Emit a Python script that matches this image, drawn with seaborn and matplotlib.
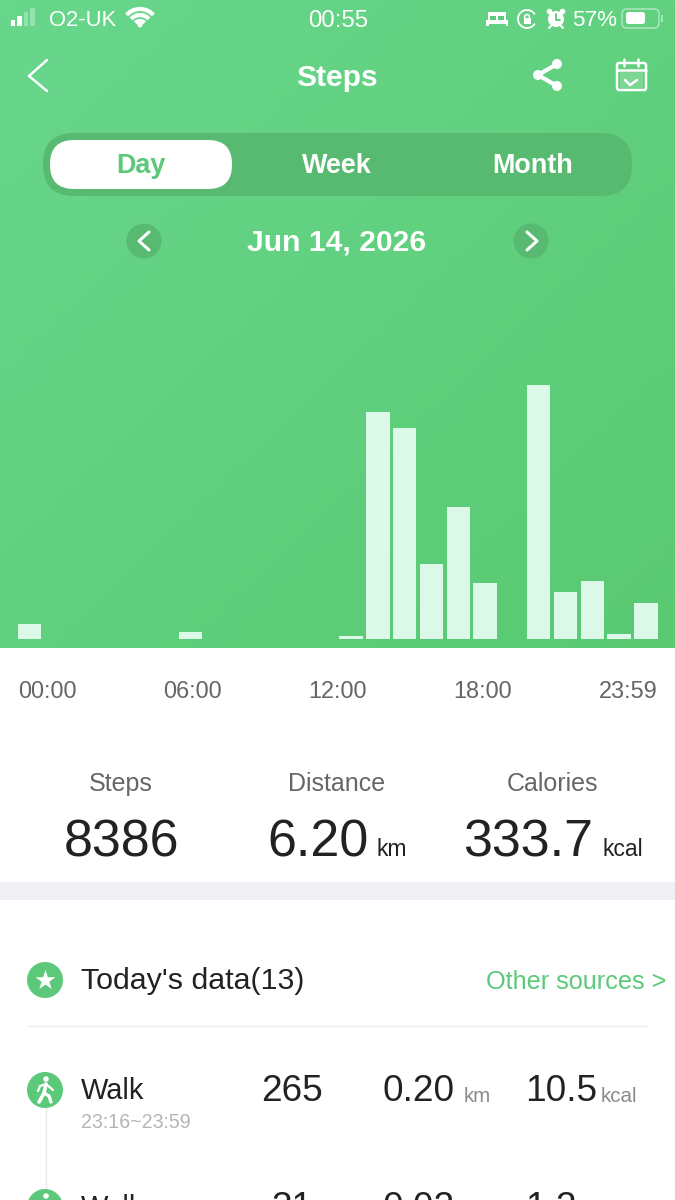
import matplotlib
matplotlib.use('Agg')
import matplotlib.pyplot as plt
from matplotlib.patches import Circle, FancyBboxPatch, Rectangle, Arc
import numpy as np
import pandas as pd
import seaborn as sns

# data
hours = list(range(24))
steps = [112, 0, 0, 0, 0, 0, 52, 0, 0, 0, 0, 0, 22, 1693, 1577, 558, 985, 412, 0, 1897, 348, 431, 34, 265]
tick_labels = ['00:00', '06:00', '12:00', '18:00', '23:59']
summary_labels = ['Steps', 'Distance', 'Calories']
summary_values = ['8386', '6.20', '333.7']
summary_units = ['', 'km', 'kcal']
tabs = ['Day', 'Week', 'Month']

GREEN = '#5cc97a'
DARK_PILL = '#58ba70'
BAR = '#dcf8e8'
INK = '#222222'

sns.set_theme(style='white')
plt.rcParams['font.family'] = ['Liberation Sans', 'DejaVu Sans']

fig = plt.figure(figsize=(6.75, 12), dpi=100)
fig.patch.set_facecolor('white')
ui = fig.add_axes([0, 0, 1, 1])
ui.axis('off')


def txt(x, y, s, px, color='white', ha='center', weight='normal'):
    # y is the middle of the glyphs, the small shift undoes matplotlib's descent box
    ui.text(x, y + 0.08 * px, s, fontsize=px * 0.72, color=color, ha=ha, va='center', fontweight=weight)


# gradient header
xx, yy = np.meshgrid(np.linspace(0, 1, 60), np.linspace(0, 1, 60))
t = (xx + yy) / 2
c0 = np.array([0x68, 0xd7, 0x8c]) / 255
c1 = np.array([0x5a, 0xc9, 0x72]) / 255
grad = c0 + (c1 - c0) * t[..., None]
ui.imshow(grad, extent=(0, 675, 648, 0), aspect='auto', zorder=0)
ui.set_xlim(0, 675)
ui.set_ylim(1200, 0)

# status bar
for i, h in enumerate([6, 10, 14, 18]):
    ui.add_patch(Rectangle((10.5 + i * 6.6, 26 - h), 4.5, h, color='white', alpha=1 if i < 2 else 0.3, lw=0))
txt(49, 19, 'O2-UK', 22, ha='left')
for r in [12, 24, 36]:
    ui.add_patch(Arc((140, 27), r, r, theta1=222, theta2=318, color='white', lw=3))
ui.add_patch(Circle((140, 25), 2.5, color='white', lw=0))
txt(338, 19, '00:55', 24)
# bed
ui.add_patch(Rectangle((486, 20), 22, 4, color='white', lw=0))
ui.add_patch(Rectangle((486, 24), 2.5, 2, color='white', lw=0))
ui.add_patch(Rectangle((505.5, 24), 2.5, 2, color='white', lw=0))
ui.add_patch(Rectangle((488, 12), 18, 8, color='white', lw=0))
ui.add_patch(Rectangle((490, 16), 6, 3.5, color=GREEN, lw=0))
ui.add_patch(Rectangle((498, 16), 6, 3.5, color=GREEN, lw=0))
# rotation lock
ui.add_patch(Arc((527, 19), 18, 18, theta1=30, theta2=330, color='white', lw=1.3))
ui.add_patch(Rectangle((523.5, 18), 7, 6, color='white', lw=0))
ui.add_patch(Arc((527, 18), 5, 7, theta1=180, theta2=360, color='white', lw=1.2))
# alarm
ui.add_patch(Circle((556, 19), 8, color='white', lw=0))
ui.plot([556, 556, 560], [14, 20, 20], color=GREEN, lw=1.3)
ui.add_patch(Circle((549.5, 11.5), 2.8, color='white', lw=0))
ui.add_patch(Circle((562.5, 11.5), 2.8, color='white', lw=0))
ui.plot([551, 549], [26, 28], color='white', lw=1.5)
ui.plot([561, 563], [26, 28], color='white', lw=1.5)
txt(595, 19, '57%', 22.5)
# battery
ui.add_patch(FancyBboxPatch((622, 9), 37, 19, boxstyle='round,pad=0,rounding_size=5', fill=False, ec='#a5e6ba', lw=1.2))
ui.add_patch(FancyBboxPatch((626, 12), 19, 12, boxstyle='round,pad=0,rounding_size=2.5', color='white', lw=0))
ui.add_patch(Rectangle((661, 15), 1.6, 7, color='#a5e6ba', lw=0))

# nav bar
ui.plot([47, 29, 47], [60, 76, 91], color='white', lw=1.8, solid_capstyle='round', solid_joinstyle='miter')
txt(337, 76, 'Steps', 30, weight='bold')
ui.plot([557, 538, 557], [64, 75, 86], color='white', lw=3)
for cx, cy in [(557, 64), (538, 75), (557, 86)]:
    ui.add_patch(Circle((cx, cy), 5, color='white', lw=0))
ui.add_patch(FancyBboxPatch((617, 63), 29, 27, boxstyle='round,pad=0,rounding_size=2', fill=False, ec='white', lw=1.8))
ui.add_patch(Rectangle((620, 72), 23, 16, color='white', alpha=0.18, lw=0))
ui.plot([617, 646], [70, 70], color='white', lw=1.8)
ui.plot([624, 624], [59, 66], color='white', lw=1.8)
ui.plot([638, 638], [59, 66], color='white', lw=1.8)
ui.plot([625, 630, 637], [80, 85, 80], color='white', lw=1.8)

# Day / Week / Month switch
ui.add_patch(FancyBboxPatch((43, 133), 589, 63, boxstyle='round,pad=0,rounding_size=31', color=DARK_PILL, lw=0))
ui.add_patch(FancyBboxPatch((50, 140), 182, 49, boxstyle='round,pad=0,rounding_size=24', color='white', lw=0))
for x, label, col in zip([141, 337, 533], tabs, [GREEN, 'white', 'white']):
    txt(x, 164, label, 27, color=col, weight='bold')

# date row
for cx, pts in [(144, ([149, 139, 149], [232, 241, 250])), (531, ([527, 537, 527], [232, 241, 250]))]:
    ui.add_patch(Circle((cx, 241), 17.5, color=DARK_PILL, lw=0))
    ui.plot(pts[0], pts[1], color='white', lw=2.2)
txt(337, 240, 'Jun 14, 2026', 30, weight='bold')

# the bars
df = pd.DataFrame({'hour': hours, 'steps': steps})
chart = fig.add_axes([16.1 / 675, 1 - 638.5 / 1200, 643.2 / 675, 267 / 1200])
chart.patch.set_alpha(0)
sns.barplot(data=df, x='hour', y='steps', color=BAR, saturation=1, width=0.88, ax=chart, linewidth=0)
chart.set_xlim(-0.5, 23.5)
chart.set_ylim(0, 2000)
chart.axis('off')

# time labels under the chart
for x, label in zip([47, 192, 337, 483, 628], tick_labels):
    txt(x, 690, label, 23.5, color='#666666')

# summary numbers
for x, label in zip([121, 337, 553], summary_labels):
    txt(x, 782, label, 25, color='#666666')
txt(121, 839, summary_values[0], 52, color=INK)
txt(267, 839, summary_values[1], 52, color=INK, ha='left')
txt(377, 848, summary_units[1], 23, color=INK, ha='left')
txt(463, 839, summary_values[2], 52, color=INK, ha='left')
txt(602, 848, summary_units[2], 23, color=INK, ha='left')

ui.add_patch(Rectangle((0, 882), 675, 18, color='#f0f0f4', lw=0))

# today's data list
ui.add_patch(Circle((45, 980), 18, color=GREEN, lw=0))
ui.scatter([45], [980], marker='*', s=230, color='white', lw=0, zorder=3)
txt(81, 979, "Today's data(13)", 30.4, color=INK, ha='left')
txt(666, 980, 'Other sources >', 25.3, color=GREEN, ha='right')
ui.plot([27, 648], [1026, 1026], color='#eeeeee', lw=1)

ui.plot([45.5, 45.5], [1105, 1195], color='#e8e8e8', lw=1)
for cy in [1090, 1207]:
    ui.add_patch(Circle((45, cy), 18, color=GREEN, lw=0, zorder=3))
    ui.add_patch(Circle((46, cy - 11), 2.8, color='white', lw=0, zorder=4))
    ui.plot([46, 44, 39], [cy - 6, cy + 3, cy + 12], color='white', lw=2.6, zorder=4)
    ui.plot([44, 49, 51], [cy + 3, cy + 6, cy + 12], color='white', lw=2.4, zorder=4)
    ui.plot([38, 40, 46, 53], [cy + 1, cy - 4, cy - 6, cy + 0], color='white', lw=1.6, zorder=4)

txt(81, 1089, 'Walk', 29, color=INK, ha='left')
txt(81, 1121, '23:16~23:59', 19.7, color='#b5b5b5', ha='left')
txt(292, 1089, '265', 37, color=INK)
txt(382, 1089, '0.20', 37, color=INK, ha='left')
txt(464, 1095, 'km', 20.5, color='#8a8a8a', ha='left')
txt(525, 1089, '10.5', 37, color=INK, ha='left')
txt(601, 1095, 'kcal', 20.5, color='#8a8a8a', ha='left')

# next row runs off the bottom of the screen, as in the screenshot
txt(81, 1206, 'Walk', 29, color=INK, ha='left')
txt(292, 1206, '31', 37, color=INK)
txt(382, 1206, '0.02', 37, color=INK, ha='left')
txt(525, 1206, '1.2', 37, color=INK, ha='left')

fig.savefig('out.png', dpi=100)
